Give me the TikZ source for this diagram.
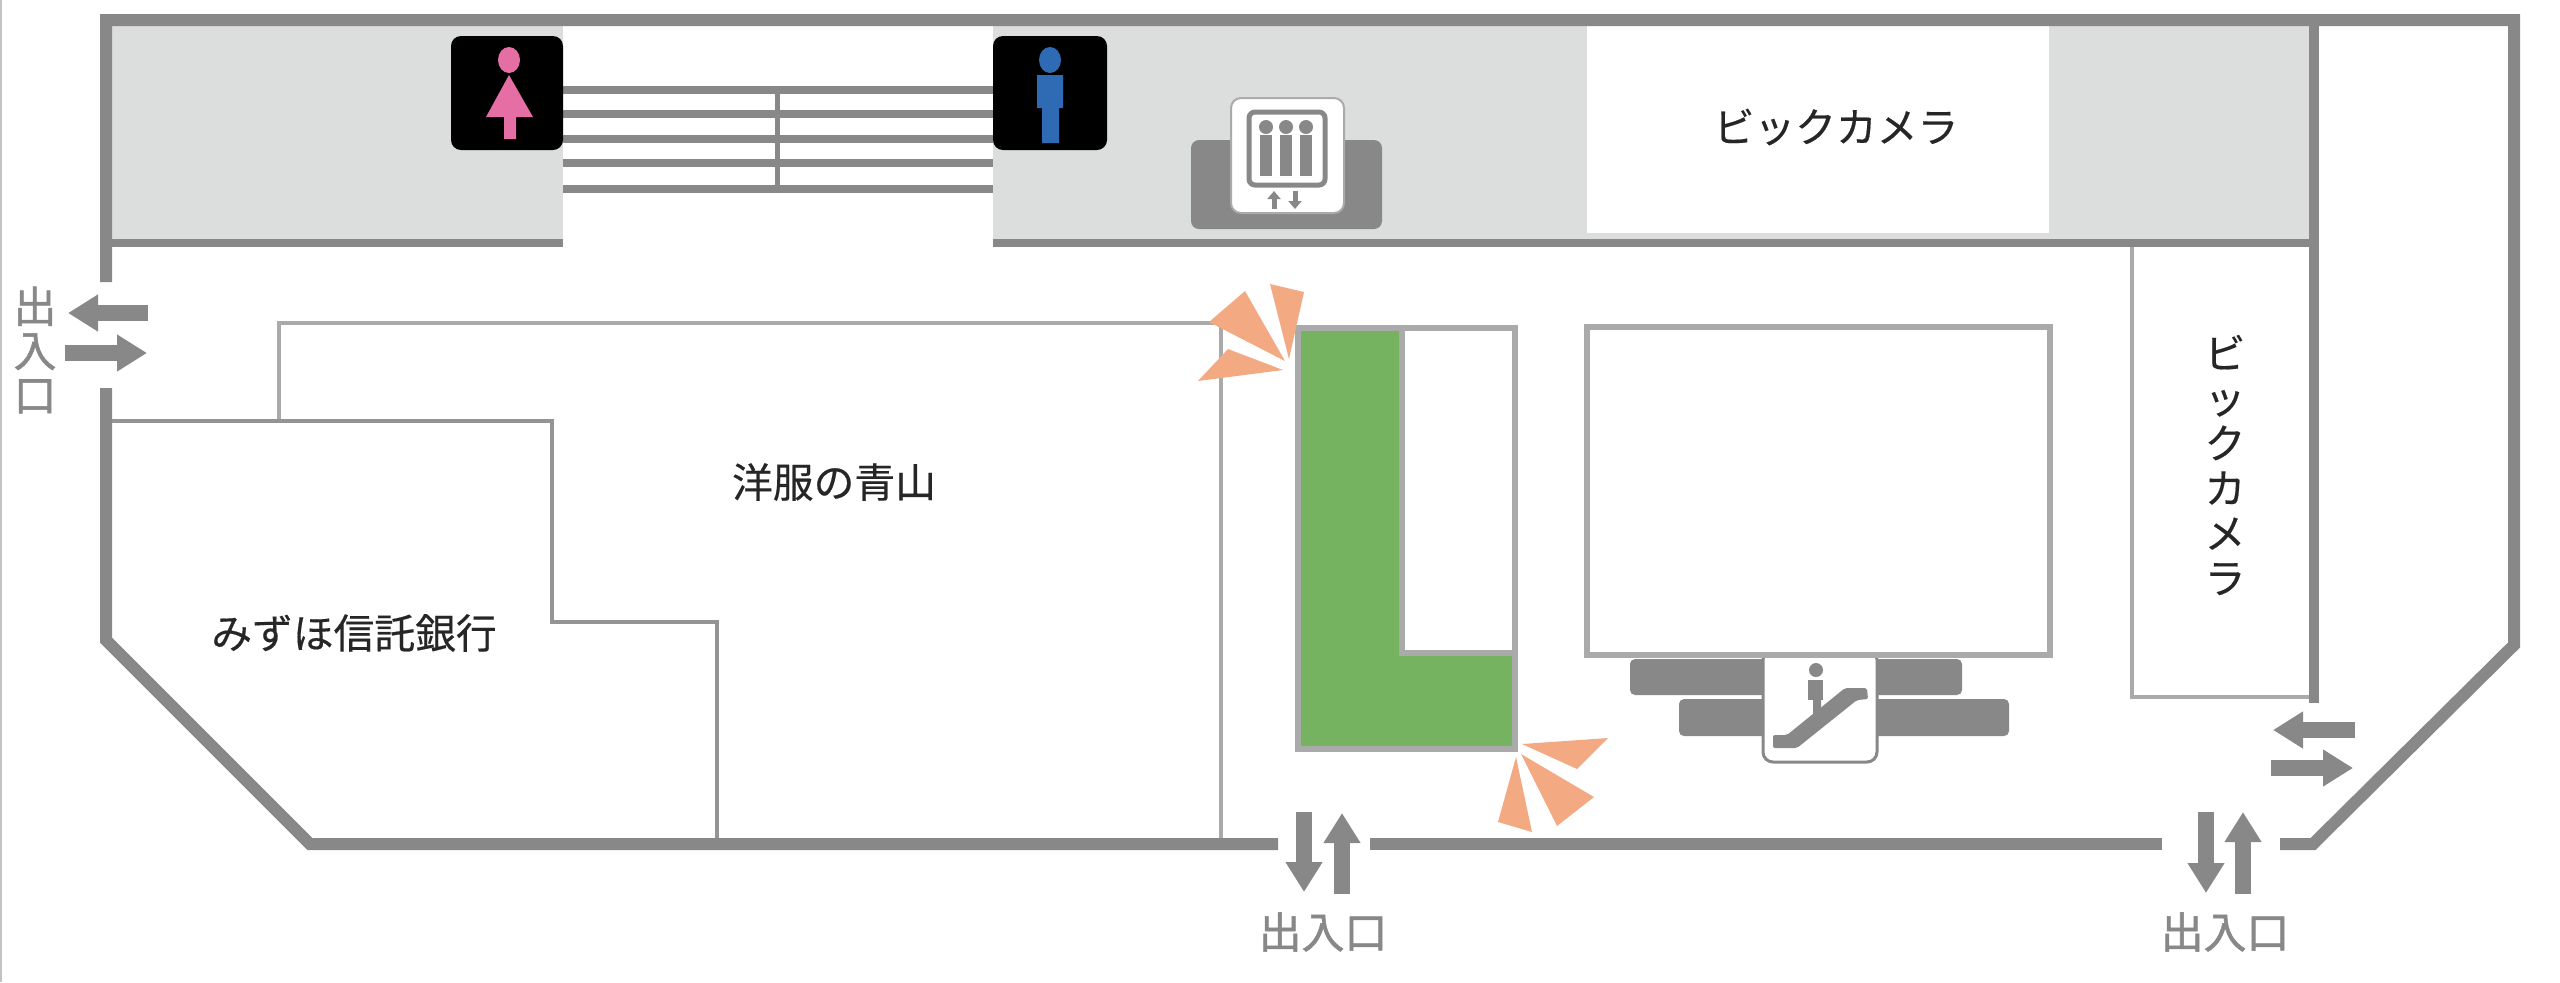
\documentclass[tikz,border=0pt]{standalone}
\usepackage{fontspec}
\setmainfont{Noto Sans CJK JP}
\newfontfamily\shopfont[FakeBold=0.4]{Noto Sans CJK JP}
\newfontfamily\doorfont[FakeBold=1.2]{Noto Sans CJK JP}
\usetikzlibrary{arrows.meta,positioning}
\definecolor{wallgrey}{HTML}{888888}
\definecolor{boxgrey}{HTML}{AAAAAA}
\definecolor{bandgrey}{HTML}{DCDEDD}
\definecolor{shopgreen}{HTML}{76B361}
\definecolor{flashorange}{HTML}{F3AA83}
\definecolor{ladypink}{HTML}{E56FA5}
\definecolor{manblue}{HTML}{2F6AB5}
\begin{document}
\begin{tikzpicture}[x=0.1mm,y=-0.1mm]
\tikzstyle{wall}=[draw=wallgrey,line width=1.2mm,line cap=butt,line join=miter]
\tikzstyle{shopline}=[draw=boxgrey,line width=0.45mm]
\tikzstyle{shopbox}=[draw=boxgrey,line width=0.6mm]
\tikzstyle{stairline}=[draw=wallgrey,line width=0.8mm]
\tikzstyle{doorarrow}=[draw=wallgrey,line width=1.6mm,-{Triangle[length=3mm,width=3.5mm]},wallgrey]
\tikzstyle{flash}=[fill=flashorange]
\tikzstyle{shoplabel}=[inner sep=0pt,font=\shopfont\fontsize{11.6}{12.8}\selectfont,text=black!85,align=center]
\tikzstyle{doorlabel}=[inner sep=0pt,font=\doorfont\fontsize{12.2}{12.6}\selectfont,text=wallgrey,align=center]
\useasboundingbox (0,0) rectangle (2560,982);
\draw[draw=boxgrey!70,line width=0.2mm] (1,0) -- (1,982);

\fill[bandgrey] (112,20) rectangle (2314,240);
\fill[white] (563,26) rectangle (993,243);
\fill[white] (1587,26) rectangle (2049,233);

\draw[stairline] (563,90) -- (993,90);
\draw[stairline] (563,114) -- (993,114);
\draw[stairline] (563,139) -- (993,139);
\draw[stairline] (563,163) -- (993,163);
\draw[stairline] (563,189) -- (993,189);
\draw[draw=wallgrey,line width=0.5mm] (777,90) -- (777,189);

\fill[black,rounded corners=1mm] (451,36) rectangle (563,150);
\fill[ladypink] (509,60) ellipse (1.1mm and 1.3mm);
\fill[ladypink] (509,75) -- (533,117) -- (516,117) -- (516,139) -- (504,139) -- (504,117) -- (486,117) -- cycle;
\fill[black,rounded corners=1mm] (993,36) rectangle (1107,150);
\fill[manblue] (1050,60) ellipse (1.1mm and 1.3mm);
\fill[manblue] (1037,75) -- (1063,75) -- (1063,108) -- (1059,108) -- (1059,143) -- (1042,143) -- (1042,108) -- (1037,108) -- cycle;

\fill[wallgrey,rounded corners=0.8mm] (1191,140) rectangle (1382,229);
\filldraw[fill=white,draw=boxgrey,line width=0.2mm,rounded corners=1mm] (1231,98) rectangle (1344,213);
\draw[draw=wallgrey,line width=0.5mm,rounded corners=0.6mm] (1249,112) rectangle (1325,185);
\fill[wallgrey] (1266,127) circle (0.7mm);
\fill[wallgrey] (1286,127) circle (0.7mm);
\fill[wallgrey] (1306,127) circle (0.7mm);
\draw[draw=wallgrey,line width=1.2mm] (1266,135) -- (1266,176);
\draw[draw=wallgrey,line width=1.2mm] (1286,135) -- (1286,176);
\draw[draw=wallgrey,line width=1.2mm] (1306,135) -- (1306,176);
\coordinate (liftup1) at (1274,209);
\coordinate (liftup2) at (1274,191);
\coordinate (liftdown1) at (1295,191);
\coordinate (liftdown2) at (1295,209);
\draw[draw=wallgrey,line width=0.5mm,-{Triangle[length=0.8mm,width=1.3mm]}] (liftup1) -- (liftup2);
\draw[draw=wallgrey,line width=0.5mm,-{Triangle[length=0.8mm,width=1.3mm]}] (liftdown1) -- (liftdown2);

\node[shoplabel] at (1836,127) (camera1) {ビックカメラ};
\draw[shopline,line width=0.4mm] (2132,245) -- (2132,697) -- (2314,697);
\node[shoplabel] at (2225,465) (camera2) {ビ\\ッ\\ク\\カ\\メ\\ラ};

\draw[shopline] (279,421) -- (279,323) -- (1221,323) -- (1221,844);
\draw[shopline,draw=wallgrey!90] (112,421) -- (552,421) -- (552,622) -- (717,622) -- (717,844);
\node[shoplabel] at (834,482) (aoyama) {洋服の青山};
\node[shoplabel] at (354,633) (mizuho) {みずほ信託銀行};

\fill[wallgrey,rounded corners=0.5mm] (1630,659) rectangle (1962,695);
\fill[wallgrey,rounded corners=0.5mm] (1679,699) rectangle (2009,736);
\filldraw[fill=white,draw=wallgrey,line width=0.3mm,rounded corners=1mm] (1763,650) rectangle (1877,762);
\fill[wallgrey] (1816,670) circle (0.7mm);
\fill[wallgrey] (1808,680) rectangle (1823,700);
\fill[wallgrey] (1813,700) -- (1821,700) -- (1821,712) -- (1813,716) -- cycle;
\fill[wallgrey,rounded corners=0.2mm] (1773,735) -- (1787,735) -- (1845,688) -- (1867,688) -- (1868,699) -- (1857,700) -- (1797,748) -- (1773,748) -- cycle;

\draw[shopbox,fill=white] (1587,327) rectangle (2050,655);
\filldraw[shopbox,fill=shopgreen] (1298,328) -- (1402,328) -- (1402,653) -- (1515,653) -- (1515,749) -- (1298,749) -- cycle;
\draw[shopbox] (1402,328) rectangle (1515,653);

\fill[flash] (1209,322) -- (1245,291) -- (1285,361) -- cycle;
\fill[flash] (1270,284) -- (1304,292) -- (1289,359) -- cycle;
\fill[flash] (1198,381) -- (1228,349) -- (1283,370) -- cycle;
\fill[flash] (1522,744) -- (1608,738) -- (1577,769) -- cycle;
\fill[flash] (1521,754) -- (1594,797) -- (1557,826) -- cycle;
\fill[flash] (1516,757) -- (1532,832) -- (1498,822) -- cycle;

\draw[wall] (106,282) -- (106,20) -- (2514,20) -- (2514,645) -- (2313,844) -- (2280,844);
\draw[wall] (106,388) -- (106,640) -- (310,844) -- (1278,844);
\draw[wall] (1370,844) -- (2162,844);
\draw[wall,line width=0.8mm] (106,243) -- (563,243);
\draw[wall,line width=0.8mm] (993,243) -- (2314,243);
\draw[wall,line width=1mm] (2314,20) -- (2314,703);

\coordinate (westin1) at (148,313);
\coordinate (westin2) at (68,313);
\coordinate (westout1) at (65,353);
\coordinate (westout2) at (147,353);
\draw[doorarrow] (westin1) -- (westin2);
\draw[doorarrow] (westout1) -- (westout2);
\node[doorlabel] at (35,350) (door1) {出\\入\\口};

\coordinate (midin1) at (1304,812);
\coordinate (midin2) at (1304,892);
\coordinate (midout1) at (1342,894);
\coordinate (midout2) at (1342,813);
\draw[doorarrow] (midin1) -- (midin2);
\draw[doorarrow] (midout1) -- (midout2);
\node[doorlabel] at (1323,932) (door2) {出入口};

\coordinate (eastin1) at (2206,812);
\coordinate (eastin2) at (2206,893);
\coordinate (eastout1) at (2243,894);
\coordinate (eastout2) at (2243,812);
\draw[doorarrow] (eastin1) -- (eastin2);
\draw[doorarrow] (eastout1) -- (eastout2);
\node[doorlabel] at (2225,932) (door3) {出入口};

\coordinate (sidein1) at (2355,730);
\coordinate (sidein2) at (2273,730);
\coordinate (sideout1) at (2271,768);
\coordinate (sideout2) at (2353,768);
\draw[doorarrow] (sidein1) -- (sidein2);
\draw[doorarrow] (sideout1) -- (sideout2);
\end{tikzpicture}
\end{document}
